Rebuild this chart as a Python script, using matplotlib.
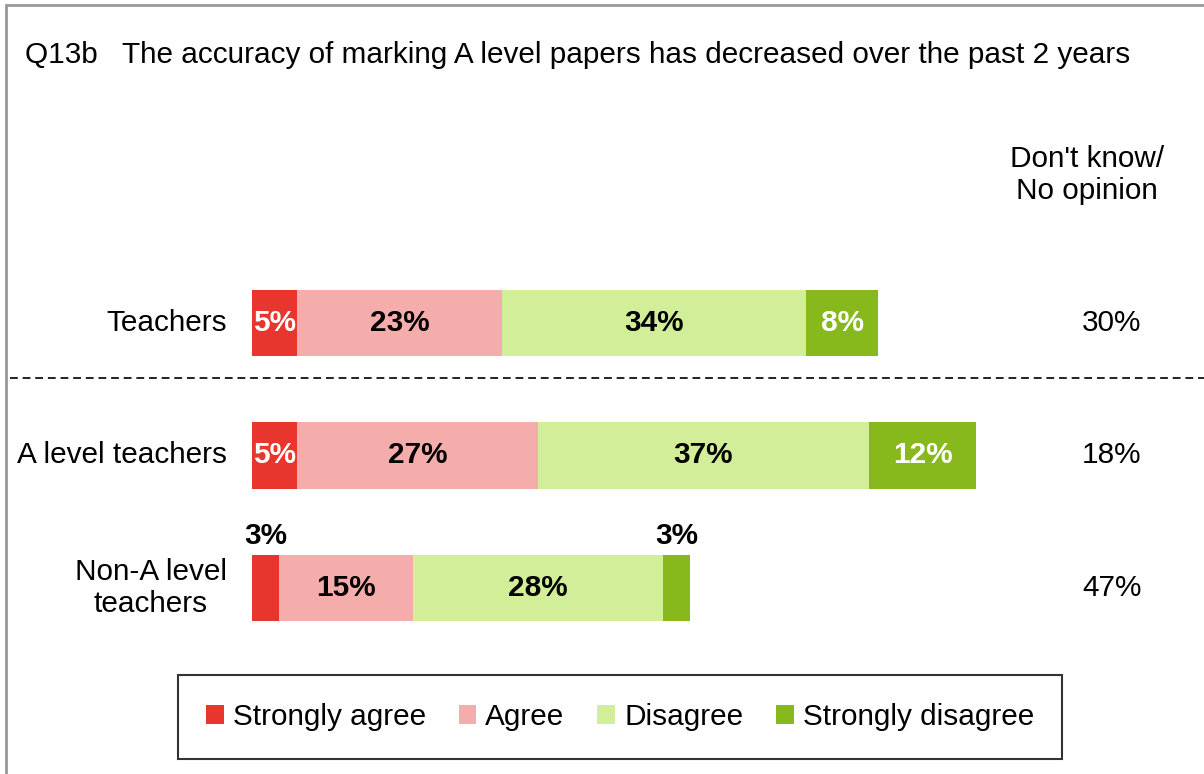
import matplotlib.pyplot as plt
from matplotlib.patches import Patch, Rectangle

plt.rcParams["font.family"] = ["Liberation Sans", "DejaVu Sans"]

groups = ["Teachers", "A level teachers", "Non-A level\nteachers"]
categories = ["Strongly agree", "Agree", "Disagree", "Strongly disagree"]
strongly_agree = [5, 5, 3]
agree = [23, 27, 15]
disagree = [34, 37, 28]
strongly_disagree = [8, 12, 3]
dont_know = [30, 18, 47]

colors = ["#e8352d", "#f4adab", "#d3ee98", "#87b91d"]
label_colors = ["white", "black", "black", "white"]

W, H = 1204, 774
PX_PER_PCT = 8.94
X0 = 252          # pixel where bars start
ROW0, ROW_STEP = 323, 132.5
FS = 21.4

fig = plt.figure(figsize=(W / 100, H / 100), dpi=100)
ax = fig.add_axes([0, 0, 1, 1])
ax.set_xlim(-X0 / PX_PER_PCT, (W - X0) / PX_PER_PCT)
ax.set_ylim((H - ROW0) / ROW_STEP, -ROW0 / ROW_STEP)
ax.axis("off")

series = [strongly_agree, agree, disagree, strongly_disagree]
ypos = list(range(len(groups)))
left = [0] * len(groups)
for vals, col, lcol, name in zip(series, colors, label_colors, categories):
    ax.barh(ypos, vals, left=left, height=0.5, color=col, label=name)
    for i, v in enumerate(vals):
        cx = left[i] + v / 2
        if v <= 3:
            # too narrow: put the value above the segment
            ax.text(cx, ypos[i] - 0.39, f"{v}%", ha="center", va="center",
                    fontsize=FS, fontweight="bold", color="black")
        else:
            ax.text(cx, ypos[i], f"{v}%", ha="center", va="center",
                    fontsize=FS, fontweight="bold", color=lcol)
    left = [l + v for l, v in zip(left, vals)]

for i, g in enumerate(groups):
    ax.text(-25 / PX_PER_PCT, ypos[i], g, ha="right", va="center",
            fontsize=FS, linespacing=1.15, multialignment="center")
    ax.text((1112 - X0) / PX_PER_PCT, ypos[i], f"{dont_know[i]}%",
            ha="center", va="center", fontsize=FS)

ax.text((1087 - X0) / PX_PER_PCT, (175 - ROW0) / ROW_STEP,
        "Don't know/\nNo opinion", ha="center", va="center", fontsize=FS,
        linespacing=1.2)

# separator between all teachers and the subgroups
ax.plot([(10 - X0) / PX_PER_PCT, (W - X0) / PX_PER_PCT],
        [(378 - ROW0) / ROW_STEP] * 2, color="#222222", lw=1.4,
        linestyle=(0, (4, 2.5)))

fig.text(25 / W, 1 - 55 / H,
         "Q13b   The accuracy of marking A level papers has decreased over the past 2 years",
         ha="left", va="center", fontsize=FS)

fig.patches.append(Rectangle((6 / W, -0.1), 1.2, 1 - 5 / H + 0.1,
                             transform=fig.transFigure, fill=False,
                             edgecolor="#999999", lw=2))

handles = [Patch(facecolor=c, edgecolor="none") for c in colors]
leg = fig.legend(handles, categories, loc="center",
                 bbox_to_anchor=(620 / W, 1 - 717 / H), ncols=4,
                 fontsize=FS, frameon=True, fancybox=False,
                 handlelength=0.6, handleheight=0.6, handletextpad=0.3,
                 columnspacing=1.1, borderpad=0.95, borderaxespad=0)
leg.get_frame().set_edgecolor("black")
leg.get_frame().set_linewidth(1.5)

fig.savefig("out.png", dpi=100)
